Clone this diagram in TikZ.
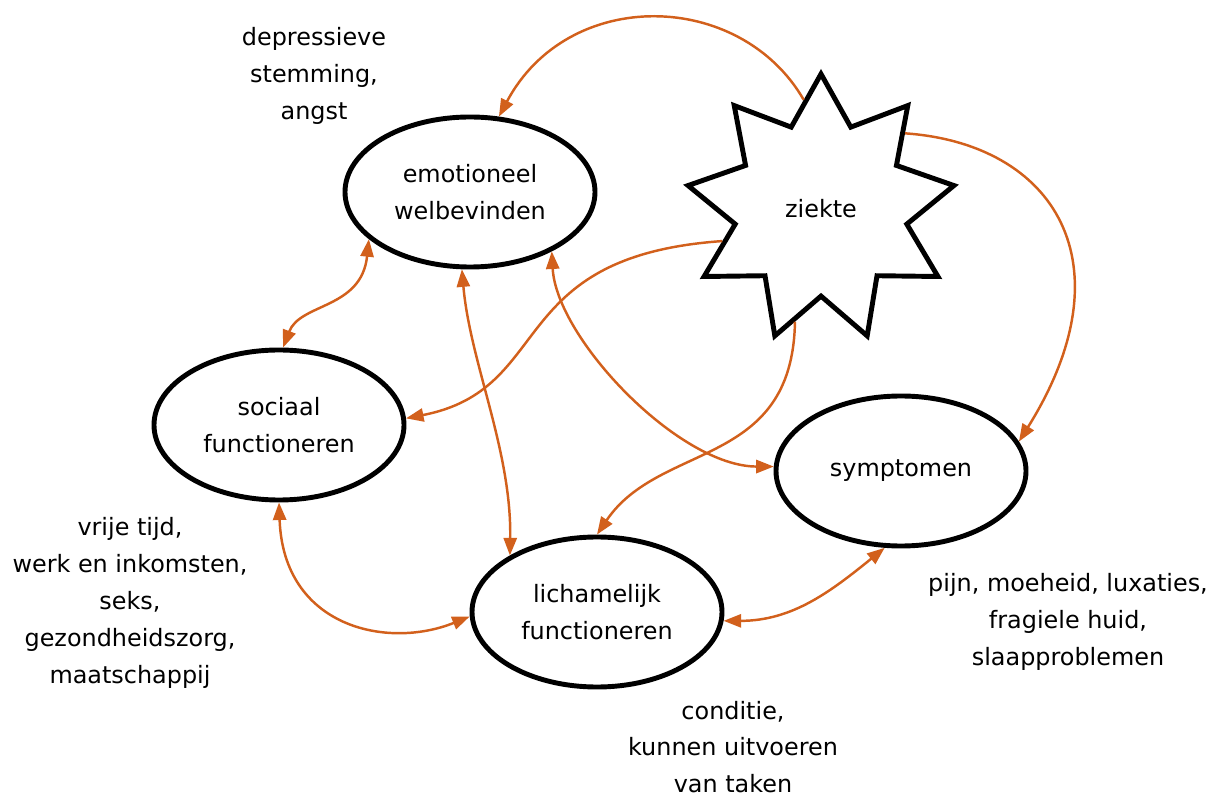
\documentclass[tikz,border=0pt]{standalone}
\usepackage{fontspec}
\setmainfont{DejaVu Sans}
\usetikzlibrary{shapes.geometric,arrows.meta}
\definecolor{linkorange}{RGB}{210,96,28}

\begin{document}
\begin{tikzpicture}[
  every node/.style={font=\fontsize{13.6}{21}\selectfont, align=center},
  area/.style={ellipse, draw, line width=2.8pt, fill=white, minimum width=5cm, minimum height=3cm},
  cause/.style={star, star points=9, star point ratio=1.55, draw, line width=2.8pt, fill=white, minimum size=5.4cm},
  link/.style={draw=linkorange, line width=1.4pt, -{Triangle[length=10pt,width=7.5pt]}},
  both/.style={link, {Triangle[length=10pt,width=7.5pt]}-{Triangle[length=10pt,width=7.5pt]}},
]
  \useasboundingbox (0,0) rectangle (24.34,15.96);

  % areas
  \node[area] (emo) at (9.40,12.12) {emotioneel\\welbevinden};
  \node[area] (soc) at (5.58,7.46) {sociaal\\functioneren};
  \node[area] (lich) at (11.94,3.72) {lichamelijk\\functioneren};
  \node[area] (sym) at (18.02,6.54) {symptomen};
  \node[cause] (zk) at (16.42,11.78) {ziekte};

  % examples
  \node (dep) at (6.28,14.44) {depressieve\\stemming,\\angst};
  \node (vrij) at (2.60,3.90) {vrije tijd,\\werk en inkomsten,\\seks,\\gezondheidszorg,\\maatschappij};
  \node (pijn) at (21.36,3.52) {pijn, moeheid, luxaties,\\fragiele huid,\\slaapproblemen};
  \node (cond) at (14.66,1.02) {conditie,\\kunnen uitvoeren\\van taken};

  % from ziekte
  \draw[link] (zk.99) to[out=120, in=62, out distance=2.54cm, in distance=2.95cm] (emo.69);
  \draw[link] (zk.42) to[out=-4, in=58, out distance=3.0cm, in distance=4.2cm] (sym.14);
  \draw[link] (zk.198) to[out=184, in=11, out distance=4.4cm, in distance=3.06cm] (soc.3);
  \draw[link] (zk.257) to[out=-91, in=56, out distance=2.94cm, in distance=2.25cm] (lich.90);

  % between areas
  \draw[both] (emo.-36) to[out=-87, in=180, out distance=1.74cm, in distance=1.9cm] (sym.178);
  \draw[both] (emo.264) to[out=-85, in=89, out distance=1.87cm, in distance=2.1cm] (lich.147);
  \draw[both] (emo.205) to[out=-96, in=69, out distance=1.41cm, in distance=0.96cm] (soc.87);
  \draw[both] (soc.south) to[out=-88, in=202, out distance=2.5cm, in distance=1.78cm] (lich.182);
  \draw[both] (lich.-4) to[out=0, in=219] (sym.258);
\end{tikzpicture}
\end{document}
